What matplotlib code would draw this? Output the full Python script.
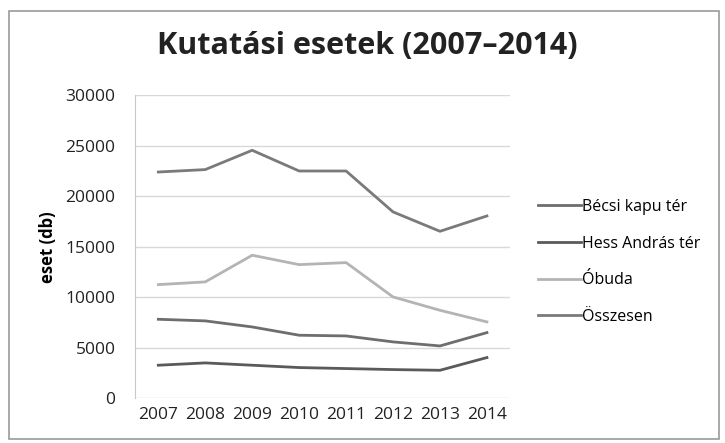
import matplotlib

matplotlib.use("Agg")
import matplotlib.pyplot as plt
from matplotlib.patches import Rectangle

years = [2007, 2008, 2009, 2010, 2011, 2012, 2013, 2014]
becsi_kapu = [7820, 7660, 7060, 6240, 6170, 5580, 5180, 6500]
hess_andras = [3270, 3500, 3270, 3040, 2940, 2840, 2770, 4030]
obuda = [11250, 11520, 14160, 13230, 13430, 10030, 8710, 7560]
osszesen = [22400, 22640, 24550, 22500, 22500, 18450, 16530, 18050]

series = [
    ("Bécsi kapu tér", becsi_kapu, "#6e6e6e"),
    ("Hess András tér", hess_andras, "#5a5a5a"),
    ("Óbuda", obuda, "#b4b4b4"),
    ("Összesen", osszesen, "#7a7a7a"),
]

plt.rcParams["font.family"] = ["Open Sans", "DejaVu Sans"]

fig = plt.figure(figsize=(7.25, 4.43), dpi=100)
fig.patches.append(
    Rectangle((0.012, 0.01), 0.98, 0.965, transform=fig.transFigure,
              fill=False, edgecolor="#9a9a9a", linewidth=1.2)
)
ax = fig.add_axes([0.186, 0.101, 0.518, 0.684])

for label, values, color in series:
    ax.plot(years, values, color=color, linewidth=2.0, label=label)

ax.set_ylim(0, 30000)
ax.set_xlim(2006.5, 2014.5)
ax.set_yticks(range(0, 30001, 5000))
ax.set_xticks(years)
ax.tick_params(axis="both", length=0, labelsize=12.5, colors="#222222")
ax.tick_params(axis="y", pad=14)
ax.tick_params(axis="x", pad=6)
ax.grid(axis="y", color="#d8d8d8", linewidth=1.0)
ax.set_axisbelow(True)
for side in ("top", "right", "bottom"):
    ax.spines[side].set_visible(False)
ax.spines["left"].set_color("#c8c8c8")
ax.set_ylabel("eset (db)", fontsize=12, fontweight="bold", labelpad=6)

fig.text(0.507, 0.897, "Kutatási esetek (2007–2014)", ha="center",
         va="center", fontsize=22, fontweight="bold", color="#222222")

ax.legend(loc="center left", bbox_to_anchor=(1.035, 0.45), frameon=False,
          fontsize=11.5, handlelength=2.7, handletextpad=0.05,
          labelspacing=1.3)

fig.savefig("out.png", dpi=100)
